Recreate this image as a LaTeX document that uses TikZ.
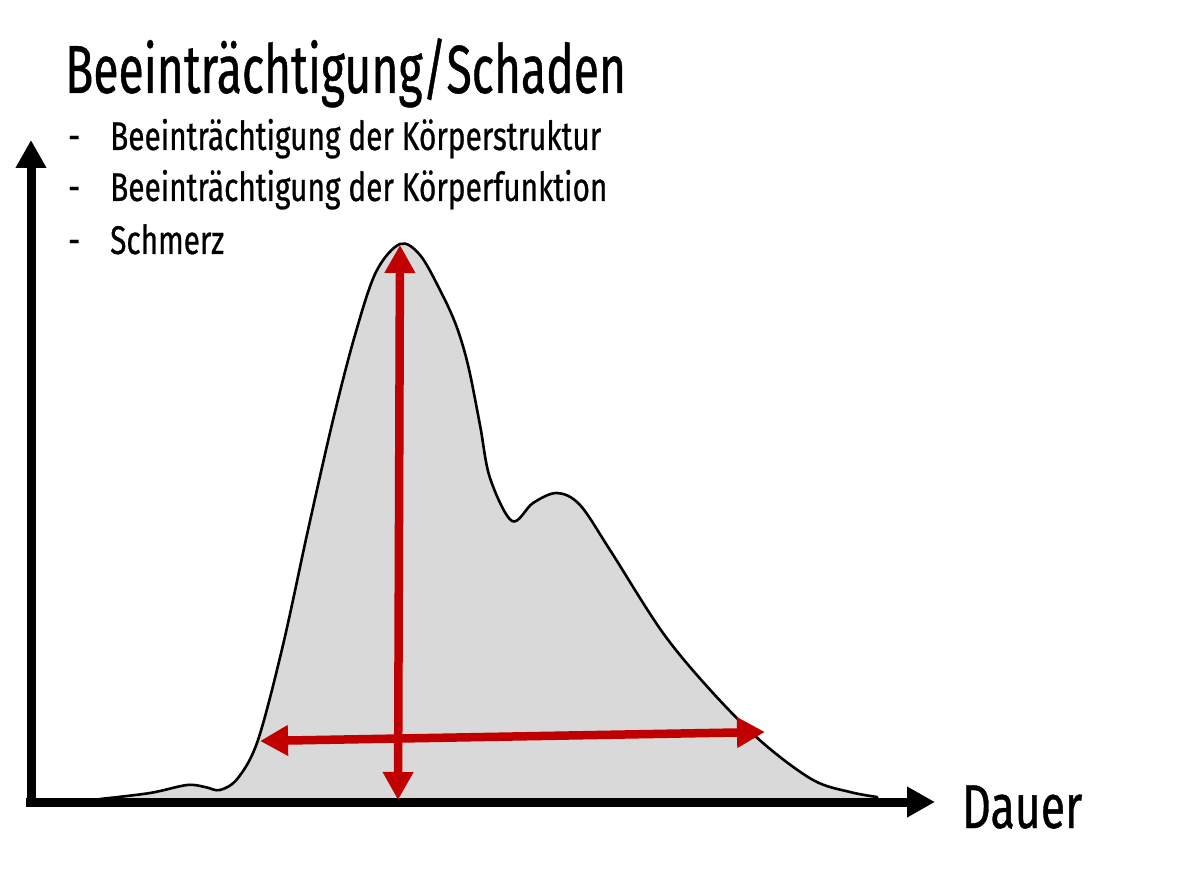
\documentclass[tikz,border=0pt]{standalone}
\usepackage{fontspec}
\setmainfont{Fira Sans}[FakeStretch=0.72,FakeBold=0.6]
\newfontfamily\titlefont{Fira Sans}[FakeStretch=0.68,FakeBold=0.6]
\newfontfamily\itemfont{Fira Sans}[FakeStretch=0.745,FakeBold=0.6]
\usetikzlibrary{arrows.meta}
\definecolor{redarrow}{HTML}{C00000}
\definecolor{areagrey}{HTML}{D9D9D9}
\tikzset{
  axisline/.style={line width=9pt,-{Triangle[width=29pt,length=28pt]}},
  redline/.style={redarrow,line width=8.5pt,{Triangle[width=29pt,length=28pt]}-{Triangle[width=29pt,length=28pt]}},
  titletext/.style={anchor=base west,inner sep=0pt,font=\titlefont\fontsize{68}{70}\selectfont},
  itemtext/.style={anchor=base west,inner sep=0pt,font=\itemfont\fontsize{40}{44}\selectfont},
  axistext/.style={anchor=base west,inner sep=0pt,font=\fontsize{62}{64}\selectfont},
  curve/.style={draw=black,line width=2.6pt,fill=areagrey,line join=round}
}
\begin{document}
\begin{tikzpicture}[x=1pt,y=-1pt]
\useasboundingbox (0,0) rectangle (1200,885);
\fill[white] (0,0) rectangle (1200,885);
% distribution curve
\path[curve] plot[smooth,tension=0.55] coordinates {
 (100,799) (150,793) (187,785) (205,787) (220,790) (238,778) (258,740)
 (283,645) (308,530) (333,420) (355,335) (376,272)
 (400,244) (420,255) (440,290) (456,325) (468,365) (480,425) (490,478)
 (512,521) (533,503) (557,493) (580,505) (610,550) (663,633) (713,693) (763,743)
 (813,780) (850,792) (877,797)} -- (877,802) -- (100,802) -- cycle;
% axes
\coordinate (origin) at (31,802);
\coordinate (ytip) at (31,140);
\coordinate (xstart) at (26,802);
\coordinate (xtip) at (935,802);
\draw[axisline] (31,806.5) -- (ytip);
\draw[axisline] (xstart) -- (xtip);
% red arrows
\coordinate (vtop) at (400,245);
\coordinate (vbot) at (398,800);
\coordinate (hleft) at (260,741);
\coordinate (hright) at (765,732);
\draw[redline] (vbot) -- (vtop);
\draw[redline] (hleft) -- (hright);
% texts
\node[titletext] (title) at (65,93) {Beeinträchtigung/Schaden};
\node[itemtext] (d1) at (68,150) {-};
\node[itemtext] (t1) at (110,150) {Beeinträchtigung der Körperstruktur};
\node[itemtext] (d2) at (68,201) {-};
\node[itemtext] (t2) at (110,201) {Beeinträchtigung der Körperfunktion};
\node[itemtext] (d3) at (68,254) {-};
\node[itemtext] (t3) at (110,254) {Schmerz};
\node[axistext] (dauer) at (962,828) {Dauer};
\end{tikzpicture}
\end{document}
